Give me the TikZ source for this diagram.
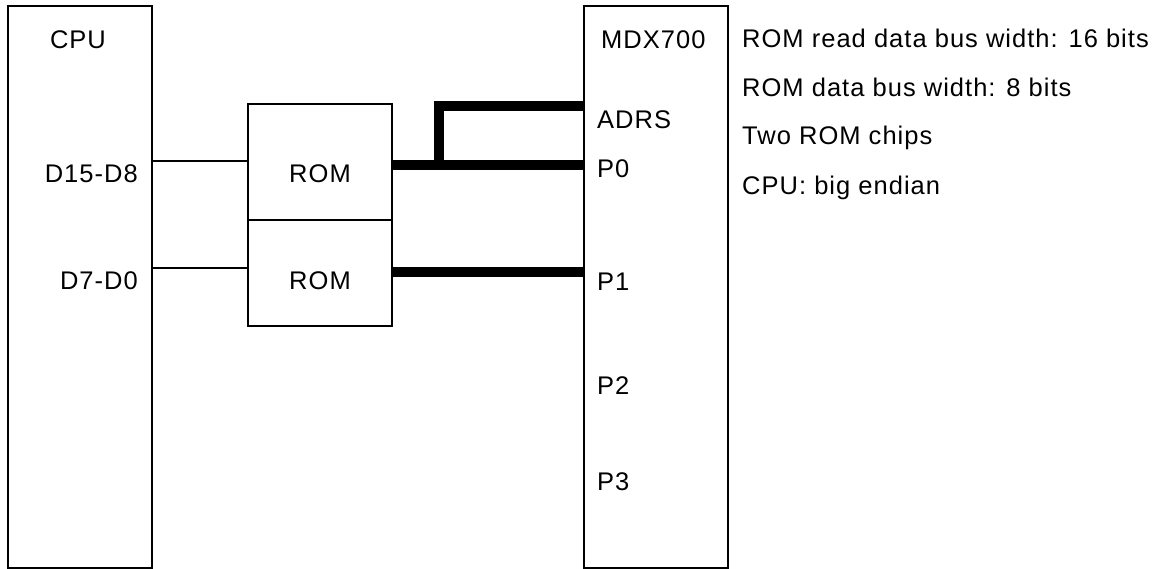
\documentclass[tikz,border=0pt]{standalone}
\usepackage{fontspec}
\setmainfont{Liberation Sans}[LetterSpace=4]
\begin{document}
\begin{tikzpicture}[x=1pt,y=-1pt,
  box/.style={draw, line width=2.2pt, rectangle, inner sep=0pt, anchor=north west},
  lbl/.style={inner sep=0pt, font=\fontsize{25.5}{30}\selectfont},
  wire/.style={line width=2pt},
  bus/.style={line width=9.5pt, line join=miter}]
\useasboundingbox (0,0) rectangle (1169,569);
% boxes
\node[box, minimum width=144pt, minimum height=562pt] (cpu) at (7,5) {};
\node[box, minimum width=144pt, minimum height=116pt] (rom1) at (247,103) {};
\node[box, minimum width=144pt, minimum height=106pt] (rom2) at (247,219) {};
\node[box, minimum width=144pt, minimum height=562pt] (mdx) at (583,5) {};
% labels
\node[lbl, anchor=base] (tcpu) at (78,49) {CPU};
\node[lbl, anchor=base east] (td158) at (138,183) {D15-D8};
\node[lbl, anchor=base east] (td70) at (138,289) {D7-D0};
\node[lbl, anchor=base] (trom1) at (320,183) {ROM};
\node[lbl, anchor=base] (trom2) at (320,289) {ROM};
\node[lbl, anchor=base west] (tmdx) at (601,49) {MDX700};
\node[lbl, anchor=base west] (tadrs) at (597,129) {ADRS};
\node[lbl, anchor=base west] (tp0) at (597,178) {P0};
\node[lbl, anchor=base west] (tp1) at (597,290) {P1};
\node[lbl, anchor=base west] (tp2) at (597,394) {P2};
\node[lbl, anchor=base west] (tp3) at (597,490) {P3};
\node[lbl, anchor=base west] (n1) at (742,48) {ROM read data bus width: 16 bits};
\node[lbl, anchor=base west] (n2) at (742,97) {ROM data bus width: 8 bits};
\node[lbl, anchor=base west] (n3) at (742,145) {Two ROM chips};
\node[lbl, anchor=base west] (n4) at (742,195) {CPU: big endian};
% connector levels
\coordinate (yA) at (0,161);
\coordinate (yB) at (0,268);
\coordinate (yAD) at (0,106);
\coordinate (yP0) at (0,165);
\coordinate (yP1) at (0,272);
\coordinate (jn) at (439,165);
% thin wires
\draw[wire] (cpu.east |- yA) -- (rom1.west |- yA);
\draw[wire] (cpu.east |- yB) -- (rom2.west |- yB);
% buses
\draw[bus] (rom1.east |- yP0) -- (mdx.west |- yP0);
\draw[bus] (jn) |- (mdx.west |- yAD);
\draw[bus] (rom2.east |- yP1) -- (mdx.west |- yP1);
\end{tikzpicture}
\end{document}
